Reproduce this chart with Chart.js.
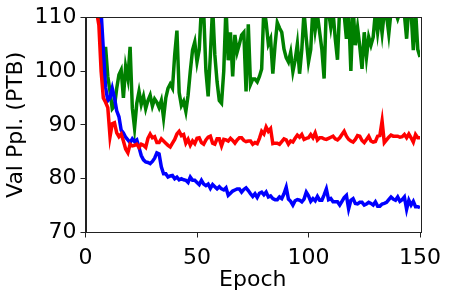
<!DOCTYPE html>
<html>
<head>
<meta charset="utf-8">
<script src="https://cdn.jsdelivr.net/npm/chart.js@4"></script>
<style>
  html, body { margin: 0; padding: 0; background: #fff; }
  #wrap { width: 449px; height: 297px; }
</style>
</head>
<body>
<div id="wrap"><canvas id="myChart" width="449" height="297"></canvas></div>
<script>
// validation perplexity per epoch
var redVals = [
  150, 135, 125, 116, 111, 108.5, 100, 95, 94.2, 93.2,
  87.8, 90.2, 90.4, 88.5, 87.8, 88.3, 87, 85.5, 84.8, 86.4,
  86.1, 86.2, 86.4, 85.8, 86.4, 86.2, 85.8, 87.5, 88.3, 87.6,
  87.8, 86.7, 86.7, 87.4, 87, 86.6, 86.2, 85.9, 86.6, 87.3,
  88.3, 88.8, 88, 88.2, 86.6, 87.3, 86.2, 87, 86.5, 87.5,
  87.6, 86.7, 86.4, 87.2, 87.7, 87.9, 86.6, 86.4, 87.4, 87.4,
  86.1, 87.3, 87.2, 87, 87.5, 87.1, 86.6, 87.2, 87.6, 87.6,
  87.1, 86.9, 87, 87, 86.4, 86.7, 86.5, 87.5, 88.8, 88.3,
  89.6, 88.8, 89.3, 86.5, 86.6, 86.6, 86.4, 86.9, 87.4, 87.2,
  86.4, 87, 86.8, 87.5, 88.1, 87.7, 88.2, 87.3, 87.5, 87.6,
  88.2, 87.6, 88.5, 87.2, 87.6, 87.6, 87.4, 87.3, 87.5, 87.7,
  87.9, 87.4, 87.2, 87.6, 88.2, 88.8, 87.9, 87.3, 87, 86.8,
  87.3, 88, 87.9, 87.1, 86.7, 87.3, 87.9, 87, 86.8, 86.9,
  87.9, 88, 90.7, 86.7, 87.2, 87.7, 88.1, 87.9, 87.9, 87.9,
  87.7, 87.8, 88.2, 87.6, 88.3, 87.6, 86.8, 88.2, 87.6, 87.6
];
var blueVals = [
  150, 140, 132, 125, 119, 114, 111, 104, 97, 94.5,
  95, 96.8, 95, 92.6, 91.5, 89, 88.5, 87.7, 87.2, 86.7,
  87.4, 86.9, 87.2, 85.8, 84.3, 83.5, 83.1, 83, 82.8, 83.2,
  83.8, 84.8, 84.6, 82.2, 80.9, 80.9, 80.3, 80.5, 80.6, 80,
  80.3, 79.8, 80, 79.8, 79.7, 79.3, 80.3, 79.7, 79.7, 79.3,
  78.9, 79.7, 79, 78.7, 79, 78.2, 78.9, 78.5, 78.1, 78.5,
  78.1, 77.9, 78.3, 76.9, 77.3, 77.7, 77.9, 78.1, 78.1, 77.5,
  78, 78.3, 77.8, 77.2, 76.7, 77.2, 76.5, 77.3, 77.5, 77,
  77.5, 76.6, 76.8, 76.3, 76.1, 76.1, 76.6, 76.3, 77.2, 78.4,
  76.2, 75.8, 75.1, 75.9, 76.1, 76, 75.7, 76.2, 77.5, 76.8,
  75.8, 76.3, 75.9, 76.7, 76, 76, 77, 78.1, 76.1, 76.3,
  75.7, 75.7, 75.7, 75.1, 75.8, 76.5, 76.9, 74.4, 76, 76.3,
  75.4, 75.3, 75.6, 75.6, 75.1, 75.3, 75.6, 75.4, 75.1, 75.7,
  74.9, 74.9, 75.3, 75.4, 75.6, 76.1, 76.6, 76.2, 76, 76.6,
  75.8, 76.1, 76.6, 74.3, 76, 75.1, 75.8, 74.8, 74.8, 74.6
];
var greenVals = [
  150, 140, 130, 125, 120, 114, 109, 97.5, 104.5, 99,
  96.2, 93, 93.5, 96.8, 99.3, 100.2, 95, 100.8, 98.6, 104.5,
  93.1, 89.4, 94, 96.2, 93.8, 95.3, 93, 94.5, 95.5, 93.5,
  94.8, 94.2, 93.2, 94.5, 91.3, 95, 96.8, 97.6, 96.8, 103,
  107.5, 96, 93.6, 94.4, 92.5, 95.5, 100, 103.9, 105.4, 101.7,
  104, 112, 111, 100, 95.3, 103, 112, 103, 98, 94.5,
  94, 100, 112, 102, 107.2, 99, 106.7, 103.5, 105, 106.7,
  107.2, 96.2, 108.7, 97.5, 98.5, 98.5, 98, 99, 100.4, 112,
  109, 105, 106, 99.5, 104.8, 109, 108, 107.2, 104.1, 102.5,
  101.7, 103.5, 99.9, 102, 105, 99.5, 104, 111, 106, 101.7,
  104, 112, 107.6, 110.5, 107.2, 104, 98.6, 112, 111, 108.1,
  111, 106, 102.1, 112, 111, 110.5, 106, 111, 100, 112,
  104.8, 108.1, 104.5, 100.4, 107.2, 102.6, 106.3, 104.8, 106.3, 111,
  107.2, 110.5, 107, 111, 110.3, 106.9, 111, 112, 111, 109.7,
  111, 112, 110.5, 106, 112, 111, 103.9, 111.5, 104, 102.6
];
var epochs = redVals.map(function (_, i) { return i + 1; });
var xTicks = [0, 50, 100, 150];
var yTicks = [70, 80, 90, 100, 110];

function pts(vals) {
    return vals.map(function (v, i) { return { x: epochs[i], y: v }; });
}

var font = { family: 'DejaVu Sans', size: 22 };

// box around the plot area (matplotlib spines)
var frame = {
    id: 'frame',
    afterDraw: function (chart) {
        var a = chart.chartArea, c = chart.ctx;
        c.save();
        c.strokeStyle = '#222';
        c.lineWidth = 1;
        c.strokeRect(Math.round(a.left) + 0.5, Math.round(a.top) + 0.5,
            Math.round(a.right - a.left), Math.round(a.bottom - a.top));
        c.restore();
    }
};

var ctx = document.getElementById('myChart').getContext('2d');
var myChart = new Chart(ctx, {
    type: 'line',
    data: {
        datasets: [
            { data: pts(redVals), borderColor: '#ff0000' },
            { data: pts(blueVals), borderColor: '#0000ff' },
            { data: pts(greenVals), borderColor: '#008000' }
        ]
    },
    options: {
        responsive: false,
        animation: false,
        datasets: {
            line: { borderWidth: 3.5, pointRadius: 0, tension: 0, clip: 0, fill: false }
        },
        layout: { padding: { top: 15, right: 29, left: 0, bottom: 0 } },
        plugins: { legend: { display: false }, tooltip: { enabled: false } },
        scales: {
            x: {
                type: 'linear',
                min: 0, max: 150,
                afterBuildTicks: function (s) { s.ticks = xTicks.map(function (v) { return { value: v }; }); },
                afterFit: function (s) { s.height = 64.5; },
                grid: { drawOnChartArea: false, tickLength: 5, color: '#222' },
                border: { color: '#222' },
                ticks: { font: font, color: '#000', padding: 8, maxRotation: 0 },
                title: { display: true, text: 'Epoch', font: font, color: '#000', padding: { top: 0, bottom: 4 } }
            },
            y: {
                min: 70, max: 110,
                afterBuildTicks: function (s) { s.ticks = yTicks.map(function (v) { return { value: v }; }); },
                afterFit: function (s) { s.width = 85.5; },
                grid: { drawOnChartArea: false, tickLength: 5, color: '#222' },
                border: { color: '#222' },
                ticks: { font: font, color: '#000', padding: 4 },
                title: { display: true, text: 'Val Ppl. (PTB)', font: font, color: '#000', padding: { top: 3, bottom: 0 } }
            }
        }
    },
    plugins: [frame]
});
</script>
</body>
</html>
